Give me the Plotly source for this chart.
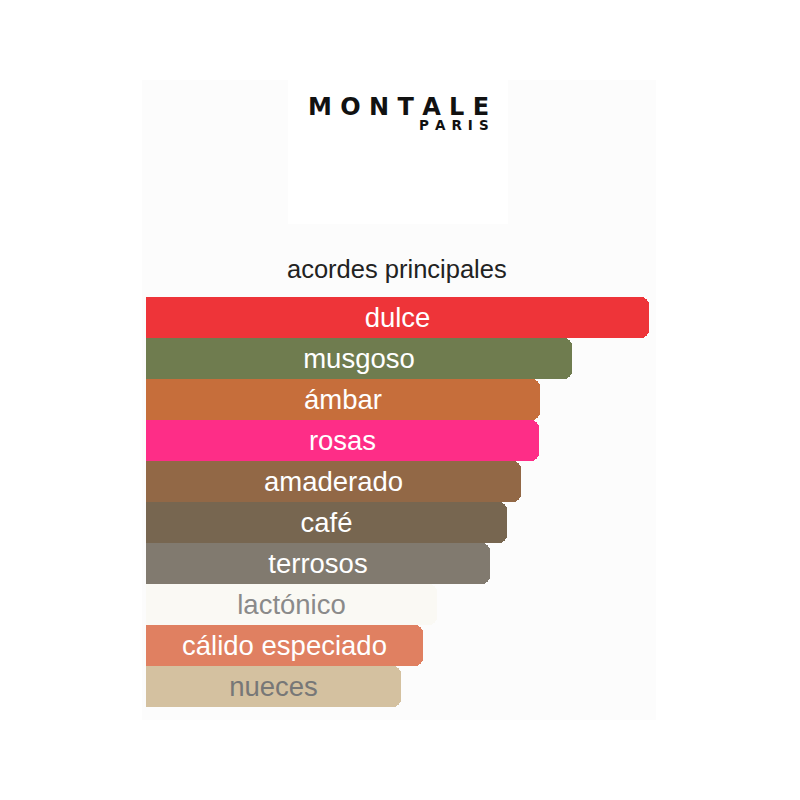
import plotly.graph_objects as go

# accords, top to bottom, bar length as % of the strongest one
accords = ["dulce", "musgoso", "ámbar", "rosas", "amaderado", "café",
           "terrosos", "lactónico", "cálido especiado", "nueces"]
strength = [100, 84.7, 78.4, 78.1, 74.6, 71.8, 68.4, 57.9, 55.1, 50.7]
bar_colors = ["#EE3439", "#6F7C4F", "#C66E3B", "#FE2D87", "#926846",
              "#776650", "#817A6F", "#FAF9F4", "#E08061", "#D4C1A0"]
label_colors = ["#FFFFFF", "#FFFFFF", "#FFFFFF", "#FFFFFF", "#FFFFFF",
                "#FFFFFF", "#FFFFFF", "#8A8A8A", "#FFFFFF", "#777777"]

W = H = 800
OFF = 8  # page body margin in the browser
font = "Liberation Sans, Arial, sans-serif"

fig = go.Figure()
fig.add_trace(go.Bar(
    x=strength,
    y=accords,
    orientation="h",
    marker=dict(color=bar_colors, cornerradius=8, line=dict(width=0)),
    text=accords,
    textposition="inside",
    insidetextanchor="middle",
    textangle=0,
    textfont=dict(family=font, size=27.5, color=label_colors),
    hoverinfo="skip",
))

# screen pixel -> paper
def px(v):
    return (v - OFF) / W

def py(v):
    return 1 - (v - OFF) / H

shapes = [
    dict(type="rect", xref="paper", yref="paper", layer="below",
         x0=px(142), x1=px(656), y0=py(720), y1=py(80),
         fillcolor="#FCFCFC", line=dict(width=0)),
    dict(type="rect", xref="paper", yref="paper", layer="below",
         x0=px(288), x1=px(508), y0=py(224), y1=py(80),
         fillcolor="#FFFFFF", line=dict(width=0)),
]

annotations = [
    dict(text=" ".join("MONTALE"), x=px(491), y=py(107), xref="paper", yref="paper",
         xanchor="right", yanchor="middle", showarrow=False,
         font=dict(family="DejaVu Sans", size=24, color="#111111", weight="bold")),
    dict(text=" \u200a".join("PARIS"), x=px(491), y=py(125), xref="paper", yref="paper",
         xanchor="right", yanchor="middle", showarrow=False,
         font=dict(family="DejaVu Sans", size=13.5, color="#111111", weight="bold")),
    dict(text="acordes principales", x=px(397), y=py(269), xref="paper", yref="paper",
         xanchor="center", yanchor="middle", showarrow=False,
         font=dict(family=font, size=25.5, color="#222222")),
]

fig.update_layout(
    width=W, height=H,
    margin=dict(l=0, r=0, t=0, b=0),
    paper_bgcolor="#FFFFFF",
    plot_bgcolor="rgba(0,0,0,0)",
    bargap=0,
    showlegend=False,
    shapes=shapes,
    annotations=annotations,
    xaxis=dict(domain=[px(146), px(649)], range=[0, 100], visible=False, fixedrange=True),
    yaxis=dict(domain=[py(707), py(297)], autorange="reversed", visible=False,
               fixedrange=True),
)

fig.write_html("out.html", config={"displayModeBar": False})
